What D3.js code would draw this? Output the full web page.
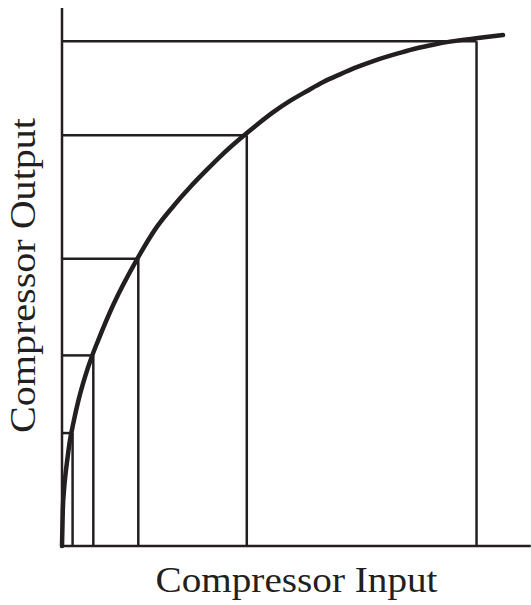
<!DOCTYPE html>
<html>
<head>
<meta charset="utf-8">
<script src="https://cdn.jsdelivr.net/npm/d3@7"></script>
<style>
  body { margin: 0; background: #fff; }
  text { font-family: "Liberation Serif", "Times New Roman", serif; fill: #231f20; }
</style>
</head>
<body>
<div id="chart"></div>
<script>
// curve, input/output in percent of full scale
var curveIn  = [0, 0.18, 0.45, 0.79, 1.2, 1.81, 2.56, 3.7, 5.22, 6.73, 8.23, 11.63, 16.94,
                21.47, 25.24, 29.02, 32.81, 36.58, 40.36, 44.15, 47.91, 51.7, 55.49, 59.25,
                63.04, 66.83, 70.59, 76.64, 80.43, 84.19, 87.98, 94.78, 100];
var curveOut = [0, 7.0, 10.9, 14.0, 16.9, 20.7, 24.0, 28.4, 33.1, 37.0, 40.3, 47.2, 56.0,
                62.4, 66.5, 70.2, 73.6, 76.8, 79.7, 82.4, 84.9, 87.1, 89.0, 90.8,
                92.3, 93.7, 94.9, 96.5, 97.4, 98.1, 98.7, 99.45, 100];

// quantisation steps
var stepIn  = [2.4, 7.1, 17.3, 41.9, 94.0];
var stepOut = [22.1, 37.3, 56.2, 80.4, 98.8];

var xLabel = "Compressor Input";
var yLabel = "Compressor Output";

var W = 531, H = 605;
var ink = "#231f20";

var svg = d3.select("#chart")
    .append("svg")
    .attr("width", W)
    .attr("height", H);

var x = d3.scaleLinear()
    .domain([0, 100])
    .range([62, 503]);

var y = d3.scaleLinear()
    .domain([0, 100])
    .range([546, 35]);

// axes (no ticks, just the lines)
svg.append("line")
    .attr("x1", x(0)).attr("x2", x(106.3))
    .attr("y1", y(0)).attr("y2", y(0))
    .attr("stroke", ink).attr("stroke-width", 2.5);

svg.append("line")
    .attr("x1", x(0)).attr("x2", x(0))
    .attr("y1", y(-0.4)).attr("y2", y(105.3))
    .attr("stroke", ink).attr("stroke-width", 2.5);

// step lines
var steps = stepIn.map((d, i) => ({ inp: d, out: stepOut[i] }));

svg.selectAll("line.v")
    .data(steps)
    .join("line")
    .attr("class", "v")
    .attr("x1", d => x(d.inp)).attr("x2", d => x(d.inp))
    .attr("y1", y(0)).attr("y2", d => y(d.out))
    .attr("stroke", ink).attr("stroke-width", 2.5);

svg.selectAll("line.h")
    .data(steps)
    .join("line")
    .attr("class", "h")
    .attr("x1", x(0)).attr("x2", d => x(d.inp))
    .attr("y1", d => y(d.out)).attr("y2", d => y(d.out))
    .attr("stroke", ink).attr("stroke-width", 2.5);

// compressor curve
var pts = curveIn.map((d, i) => [d, curveOut[i]]);

svg.append("path")
    .datum(pts)
    .attr("fill", "none")
    .attr("stroke", ink)
    .attr("stroke-width", 4.5)
    .attr("stroke-linecap", "round")
    .attr("d", d3.line()
        .x(d => x(d[0]))
        .y(d => y(d[1]))
        .curve(d3.curveMonotoneX));

// labels
svg.append("text")
    .attr("text-anchor", "middle")
    .attr("x", 296.5)
    .attr("y", 592)
    .attr("textLength", 282)
    .attr("lengthAdjust", "spacingAndGlyphs")
    .style("font-size", "36px")
    .text(xLabel);

svg.append("text")
    .attr("text-anchor", "middle")
    .attr("transform", "translate(35,275.5) rotate(-90)")
    .attr("textLength", 315)
    .attr("lengthAdjust", "spacingAndGlyphs")
    .style("font-size", "36px")
    .text(yLabel);
</script>
</body>
</html>
